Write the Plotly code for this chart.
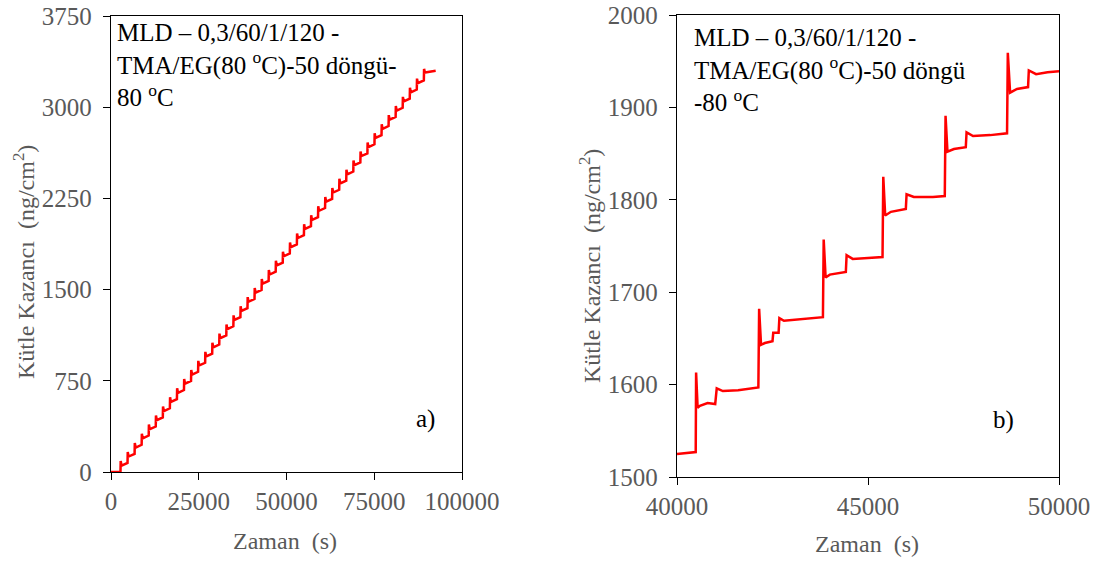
import plotly.graph_objects as go

W, H = 1109, 563

# ---------------- Data: panel a) (full run) ----------------
# start-of-run baseline
a_start_t = [0, 2700]
a_start_m = [0, 0]
# jump times of each visible cycle (s)
a_jump_t = [2700, 4710, 6720, 8730, 10740, 12750, 14760, 16770, 18780, 20790,
            22800, 24810, 26820, 28830, 30840, 32850, 34860, 36870, 38880, 40890,
            42900, 44910, 46920, 48930, 50940, 52950, 54960, 56970, 58980, 60990,
            63000, 65010, 67020, 69030, 71040, 73050, 75060, 77070, 79080, 81090,
            83100, 85110, 87120, 89130]
# mass just before each jump (ng/cm2)
a_base = [0, 75, 149, 224, 300, 374, 449, 524, 599, 674, 749, 824, 898, 973, 1048,
          1123, 1198, 1273, 1348, 1423, 1497, 1572, 1647, 1722, 1797, 1872, 1947,
          2021, 2096, 2171, 2246, 2321, 2396, 2471, 2546, 2620, 2695, 2770, 2845,
          2920, 2995, 3070, 3145, 3220]
# spike maximum after each jump
a_peak = [90, 165, 239, 314, 390, 464, 539, 614, 689, 764, 839, 914, 988, 1063,
          1138, 1213, 1288, 1363, 1438, 1513, 1587, 1662, 1737, 1812, 1887, 1962,
          2037, 2111, 2186, 2261, 2336, 2411, 2486, 2561, 2636, 2710, 2785, 2860,
          2935, 3010, 3085, 3160, 3235, 3315]
# settled value after the spike
a_after = [52, 127, 201, 276, 352, 426, 501, 576, 651, 726, 801, 876, 950, 1025,
           1100, 1175, 1250, 1325, 1400, 1475, 1549, 1624, 1699, 1774, 1849, 1924,
           1999, 2073, 2148, 2223, 2298, 2373, 2448, 2523, 2598, 2672, 2747, 2822,
           2897, 2972, 3047, 3122, 3197, 3285]
a_end_t = [92500]
a_end_m = [3300]
SPIKE_DT = 60
SETTLE_DT = 300

# ---------------- Data: panel b) (zoom 40000-50000 s) ----------------
b_t = [40000, 40490, 40500, 40540, 40600, 40800, 41000, 41040, 41200, 41600, 42130,
       42150, 42200, 42300, 42500, 42520, 42660, 42680, 42800, 43300, 43820,
       43840, 43890, 44000, 44300, 44420, 44440, 44600, 45000, 45380,
       45400, 45450, 45600, 45900, 45990, 46010, 46200, 46700, 47010,
       47030, 47080, 47250, 47560, 47580, 47750, 48200, 48640,
       48660, 48720, 48900, 49190, 49210, 49400, 49700, 50000]
b_m = [1525, 1527, 1613, 1575, 1577, 1580, 1579, 1596, 1593, 1594, 1597,
       1682, 1643, 1645, 1647, 1656, 1656, 1672, 1669, 1671, 1673,
       1757, 1716, 1719, 1721, 1722, 1740, 1736, 1737, 1738,
       1825, 1783, 1787, 1789, 1790, 1806, 1803, 1803, 1804,
       1891, 1852, 1855, 1857, 1873, 1869, 1870, 1872,
       1959, 1916, 1920, 1922, 1940, 1936, 1938, 1939]

a_xticks = [0, 25000, 50000, 75000, 100000]
a_yticks = [0, 750, 1500, 2250, 3000, 3750]
b_xticks = [40000, 45000, 50000]
b_yticks = [1500, 1600, 1700, 1800, 1900, 2000]

# build vertex list for panel a from the arrays
ax_, ay_ = list(a_start_t), list(a_start_m)
for t, b, p, s in zip(a_jump_t, a_base, a_peak, a_after):
    ax_ += [t, t + SPIKE_DT, t + SETTLE_DT]
    ay_ += [b, p, s]
ax_ += a_end_t
ay_ += a_end_m

FONT = "Liberation Serif"
GRAY = "#595959"
RED = "#FF0000"

fig = go.Figure()
fig.add_trace(go.Scatter(x=ax_, y=ay_, mode="lines", line=dict(color=RED, width=2.5),
                         xaxis="x", yaxis="y", showlegend=False, hoverinfo="skip"))
fig.add_trace(go.Scatter(x=b_t, y=b_m, mode="lines", line=dict(color=RED, width=2.5),
                         xaxis="x2", yaxis="y2", showlegend=False, hoverinfo="skip"))

def px(x):
    return x / W

def py(y):
    return 1 - y / H

axis_common = dict(showline=True, mirror=True, linecolor="black", linewidth=1.3,
                   ticks="outside", ticklen=7, tickwidth=1.3, tickcolor="black",
                   showgrid=False, zeroline=False, automargin=False,
                   tickfont=dict(family=FONT, size=25, color=GRAY))

fig.update_layout(
    width=W, height=H, autosize=False,
    margin=dict(l=0, r=0, t=0, b=0, autoexpand=False),
    paper_bgcolor="white", plot_bgcolor="white",
    font=dict(family=FONT),
    xaxis=dict(domain=[px(111), px(462)], range=[0, 100000], tickvals=a_xticks,
               ticktext=[str(v) for v in a_xticks], anchor="y", **axis_common),
    yaxis=dict(domain=[py(472), py(16)], range=[0, 3750], tickvals=a_yticks,
               ticktext=[str(v) for v in a_yticks], anchor="x", ticklabelstandoff=6,
               **axis_common),
    xaxis2=dict(domain=[px(677), px(1059)], range=[40000, 50000], tickvals=b_xticks,
                ticktext=[str(v) for v in b_xticks], anchor="y2", **axis_common),
    yaxis2=dict(domain=[py(477), py(15)], range=[1500, 2000], tickvals=b_yticks,
                ticktext=[str(v) for v in b_yticks], anchor="x2", ticklabelstandoff=6,
                **axis_common),
)

ann = []
txt_font = dict(family=FONT, size=25, color="black")
title_font = dict(family=FONT, size=24, color=GRAY)

def add(x, y, text, font, **kw):
    d = dict(x=px(x), y=py(y), xref="paper", yref="paper", showarrow=False,
             font=font, text=text, xanchor="center", yanchor="middle")
    d.update(kw)
    ann.append(d)

add(115, 17, "MLD – 0,3/60/1/120 -<br>TMA/EG(80 <sup>o</sup>C)-50 döngü-<br>80 <sup>o</sup>C",
    txt_font, xanchor="left", yanchor="top", align="left")
add(692, 22, "MLD – 0,3/60/1/120 -<br>TMA/EG(80 <sup>o</sup>C)-50 döngü<br>-80 <sup>o</sup>C",
    txt_font, xanchor="left", yanchor="top", align="left")
add(425, 419, "a)", txt_font)
add(1003, 420, "b)", txt_font)
add(285, 541, "Zaman  (s)", title_font)
add(867, 544, "Zaman  (s)", title_font)
add(24, 262, "Kütle Kazancı  (ng/cm<sup>2</sup>)", title_font, textangle=-90)
add(590, 266, "Kütle Kazancı  (ng/cm<sup>2</sup>)", title_font, textangle=-90)
fig.update_layout(annotations=ann)

fig.write_html("out.html")
